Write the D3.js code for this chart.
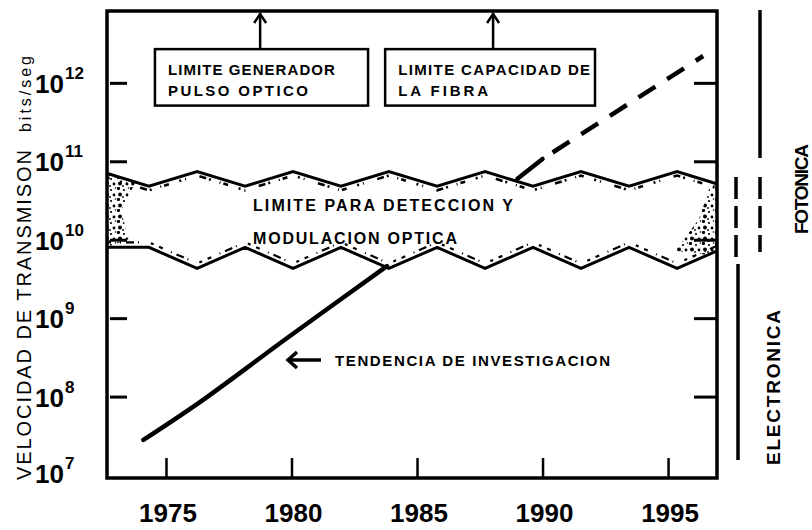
<!DOCTYPE html>
<html>
<head>
<meta charset="utf-8">
<script src="https://cdn.jsdelivr.net/npm/d3@7"></script>
<style>
  body { margin: 0; background: #fff; }
  svg { display: block; }
  text { font-family: "Liberation Sans", Arial, Helvetica, sans-serif; fill: #000; }
</style>
</head>
<body>
<svg id="chart" width="812" height="530"></svg>
<script>
// Axis ticks: years along the bottom, powers of ten for the rate (bits/seg)
const tickYears = [1975, 1980, 1985, 1990, 1995];
const tickPowers = [7, 8, 9, 10, 11, 12];

// Research trend in transmission rate (bits/seg), below the detection band
const trendYears = [1974.1, 1976.35, 1979.8, 1983.8];
const trendRates = [2.8e7, 8.5e7, 5.5e8, 4.6e9];

// Trend resumed above the band (solid), then projected (dashed)
const fiberYears = [1989.0, 1990.0];
const fiberRates = [6.0e10, 1.07e11];
const projYears = [1990.0, 1996.4];
const projRates = [1.07e11, 2.2e12];

// Limit band for optical detection and modulation: upper and lower zigzag edges
const bandTopYears = [1972.41, 1974.32, 1976.24, 1978.15, 1980.06, 1981.97, 1983.88,
                      1985.80, 1987.71, 1989.62, 1991.53, 1993.45, 1995.36, 1997.27];
const bandTopRates = [7.4e10, 4.8e10, 7.4e10, 4.8e10, 7.4e10, 4.8e10, 7.4e10,
                      4.8e10, 7.4e10, 4.8e10, 7.4e10, 4.8e10, 7.4e10, 4.8e10];
const bandBotYears = [1972.65, 1974.32, 1976.24, 1978.15, 1980.06, 1981.97, 1983.88,
                      1985.80, 1987.71, 1989.62, 1991.53, 1993.45, 1995.36, 1997.27];
const bandBotRates = [8.0e9, 8.0e9, 4.3e9, 8.0e9, 4.3e9, 8.0e9, 4.3e9,
                      8.0e9, 4.3e9, 8.0e9, 4.3e9, 8.0e9, 4.3e9, 8.0e9];

const svg = d3.select("#chart");
const L = 107, R = 717, T = 11, B = 478;

const x = d3.scaleLinear().domain([1972.65, 1996.95]).range([L, R]);
const y = d3.scaleLog().domain([Math.pow(10, 6.962), Math.pow(10, 12.916)]).range([B, T]);

const zip = (xs, ys) => xs.map((v, i) => [v, ys[i]]);
const line = d3.line().x(d => x(d[0])).y(d => y(d[1]));

const defs = svg.append("defs");
defs.append("clipPath").attr("id", "plot")
  .append("rect").attr("x", L).attr("y", T).attr("width", R - L).attr("height", B - T);

// coarse stipple texture used inside the band edges
const pat = defs.append("pattern").attr("id", "stip")
  .attr("patternUnits", "userSpaceOnUse").attr("width", 13).attr("height", 11);
[[1.5, 1.5, 1.6], [7, 3, 1.1], [3, 7.5, 2.0], [10, 8, 1.4], [11.5, 1, 0.8], [6, 10, 0.9]].forEach(c =>
  pat.append("circle").attr("cx", c[0]).attr("cy", c[1]).attr("r", c[2]).attr("fill", "#000"));

const bandTop = zip(bandTopYears, bandTopRates);
const bandBot = zip(bandBotYears, bandBotRates);
const bandPoly = bandTop.concat(bandBot.slice().reverse());
defs.append("clipPath").attr("id", "band")
  .append("path").attr("d", line(bandPoly) + "Z");

const plot = svg.append("g").attr("clip-path", "url(#plot)");

// band body
plot.append("path").attr("d", line(bandPoly) + "Z").attr("fill", "#fff");

// stippled shading along the inside of the band edges
const stip = plot.append("g").attr("clip-path", "url(#band)");
stip.append("path").attr("d", line(bandTop)).attr("transform", "translate(0,4)")
  .attr("fill", "none").attr("stroke", "#000").attr("stroke-width", 2.6)
  .attr("stroke-dasharray", "1 3 5 11 2 4 1 14 7 3 2 9");
stip.append("path").attr("d", line(bandBot)).attr("transform", "translate(0,-5)")
  .attr("fill", "none").attr("stroke", "#000").attr("stroke-width", 2.2)
  .attr("stroke-dasharray", "4 9 1 5 8 4 1 12 3 6");
stip.append("path")
  .attr("d", "M" + L + "," + (T + 160) + " L" + (L + 28) + "," + (T + 172) + " L" + (L + 14) + "," + (T + 200)
     + " L" + (L + 22) + "," + (T + 228) + " L" + L + "," + (T + 236) + "Z")
  .attr("fill", "url(#stip)");
stip.append("path")
  .attr("d", "M" + (R - 42) + "," + (T + 240) + " L" + (R - 18) + "," + (T + 208) + " L" + (R - 8) + "," + (T + 178)
     + " L" + R + "," + (T + 175) + " L" + R + "," + (T + 245) + "Z")
  .attr("fill", "url(#stip)");

// band edges
[bandTop, bandBot].forEach(edge =>
  plot.append("path").attr("d", line(edge)).attr("fill", "none")
    .attr("stroke", "#000").attr("stroke-width", 3).attr("stroke-linejoin", "miter"));

// research trend lines
plot.append("path")
  .attr("d", d3.line().x(d => x(d[0])).y(d => y(d[1])).curve(d3.curveCatmullRom)(zip(trendYears, trendRates)))
  .attr("fill", "none").attr("stroke", "#000").attr("stroke-width", 4.5).attr("stroke-linecap", "round");
plot.append("path").attr("d", line(zip(fiberYears, fiberRates)))
  .attr("fill", "none").attr("stroke", "#000").attr("stroke-width", 4.5).attr("stroke-linecap", "round");
plot.append("path").attr("d", line(zip(projYears, projRates)))
  .attr("fill", "none").attr("stroke", "#000").attr("stroke-width", 4.5)
  .attr("stroke-dasharray", "20 14").attr("stroke-dashoffset", -12);

// inward ticks on all sides
const tickVals = tickPowers.filter(p => p > 7).map(p => Math.pow(10, p));
svg.append("g").attr("transform", `translate(${L},0)`)
  .call(d3.axisRight(y).tickValues(tickVals).tickSize(20).tickFormat(""))
  .call(g => g.select(".domain").remove())
  .call(g => g.selectAll("line").attr("stroke", "#000").attr("stroke-width", 3).attr("x1", 3));
svg.append("g").attr("transform", `translate(${R},0)`)
  .call(d3.axisLeft(y).tickValues(tickVals).tickSize(23).tickFormat(""))
  .call(g => g.select(".domain").remove())
  .call(g => g.selectAll("line").attr("stroke", "#000").attr("stroke-width", 3));
svg.append("g").attr("transform", `translate(0,${B})`)
  .call(d3.axisTop(x).tickValues(tickYears).tickSize(20).tickFormat(""))
  .call(g => g.select(".domain").remove())
  .call(g => g.selectAll("line").attr("stroke", "#000").attr("stroke-width", 2.5));

// frame
svg.append("rect").attr("x", L).attr("y", T).attr("width", R - L).attr("height", B - T)
  .attr("fill", "none").attr("stroke", "#000").attr("stroke-width", 3.5);

// x tick labels
svg.append("g").selectAll("text").data(tickYears).join("text")
  .attr("x", d => x(d) + 2).attr("y", 522).attr("text-anchor", "middle")
  .attr("font-size", 26).attr("font-weight", "bold").text(d => d);

// y tick labels, 10 with the power as superscript
const yl = svg.append("g").selectAll("text").data(tickPowers).join("text")
  .attr("x", 35).attr("y", d => Math.min(y(Math.pow(10, d)) + 10, 483))
  .attr("font-size", 26).attr("font-weight", "bold");
yl.append("tspan").text("10");
yl.append("tspan").attr("dy", -14).attr("dx", 1).attr("font-size", 17).text(d => d);

// y axis title
svg.append("text").attr("transform", "translate(31,480) rotate(-90)")
  .attr("font-size", 20).attr("textLength", 330).attr("lengthAdjust", "spacing")
  .text("VELOCIDAD DE TRANSMISON");
svg.append("text").attr("transform", "translate(31,132) rotate(-90)")
  .attr("font-size", 16).attr("textLength", 76).attr("lengthAdjust", "spacing")
  .text("bits/seg");

// labelled limit boxes with arrows to the top of the frame
const boxTop = y(Math.pow(10, 12.43)), boxBot = y(Math.pow(10, 11.71));
const boxes = [
  { x0: 1974.56, x1: 1983.05, arrow: 1978.75, lines: [["LIMITE GENERADOR", 167], ["PULSO OPTICO", 140]] },
  { x0: 1983.73, x1: 1992.09, arrow: 1988.03, lines: [["LIMITE CAPACIDAD DE", 192], ["LA FIBRA", 90]] }
];
boxes.forEach(b => {
  svg.append("rect").attr("x", x(b.x0)).attr("y", boxTop)
    .attr("width", x(b.x1) - x(b.x0)).attr("height", boxBot - boxTop)
    .attr("fill", "#fff").attr("stroke", "#000").attr("stroke-width", 2.5);
  const ax = x(b.arrow);
  svg.append("line").attr("x1", ax).attr("x2", ax).attr("y1", boxTop).attr("y2", T + 2)
    .attr("stroke", "#000").attr("stroke-width", 2.5);
  svg.append("path").attr("d", `M${ax - 6},${T + 12} L${ax},${T + 3} L${ax + 6},${T + 12}`)
    .attr("fill", "none").attr("stroke", "#000").attr("stroke-width", 2.5);
  b.lines.forEach((ln, i) =>
    svg.append("text").attr("x", x(b.x0) + 13).attr("y", boxTop + 26 + i * 21)
      .attr("font-size", 15).attr("font-weight", "bold")
      .attr("textLength", ln[1]).attr("lengthAdjust", "spacing").text(ln[0]));
});

// text inside the band
svg.append("text").attr("x", 253).attr("y", 211).attr("font-size", 16).attr("font-weight", "bold")
  .attr("textLength", 260).attr("lengthAdjust", "spacing").text("LIMITE PARA DETECCION Y");
svg.append("text").attr("x", 253).attr("y", 244).attr("font-size", 16).attr("font-weight", "bold")
  .attr("textLength", 204).attr("lengthAdjust", "spacing").text("MODULACION OPTICA");

// trend label with arrow
svg.append("path").attr("d", "M290,360 L321,360").attr("stroke", "#000").attr("stroke-width", 3.5);
svg.append("path").attr("d", "M297,352 L288,360 L297,368").attr("fill", "none")
  .attr("stroke", "#000").attr("stroke-width", 3.5);
svg.append("text").attr("x", 335).attr("y", 366).attr("font-size", 15).attr("font-weight", "bold")
  .attr("textLength", 275).attr("lengthAdjust", "spacing").text("TENDENCIA DE INVESTIGACION");

// right-hand regime markers: photonics above, electronics below, overlap dashed
const side = svg.append("g").attr("stroke", "#000").attr("stroke-width", 3.5).attr("fill", "none");
side.append("line").attr("x1", 760).attr("x2", 760).attr("y1", T - 1).attr("y2", 158);
side.append("line").attr("x1", 760).attr("x2", 760).attr("y1", 177).attr("y2", 252)
  .attr("stroke-dasharray", "22 7");
side.append("line").attr("x1", 736).attr("x2", 736).attr("y1", 177).attr("y2", 257)
  .attr("stroke-dasharray", "22 7");
side.append("line").attr("x1", 738).attr("x2", 738).attr("y1", 264).attr("y2", 460);

svg.append("text").attr("transform", "translate(780,465) rotate(-90)")
  .attr("font-size", 19).attr("font-weight", "bold")
  .attr("textLength", 155).attr("lengthAdjust", "spacing").text("ELECTRONICA");
svg.append("text").attr("transform", "translate(808,234) rotate(-90)")
  .attr("font-size", 19).attr("font-weight", "bold")
  .attr("textLength", 90).attr("lengthAdjust", "spacing").text("FOTONICA");
</script>
</body>
</html>
